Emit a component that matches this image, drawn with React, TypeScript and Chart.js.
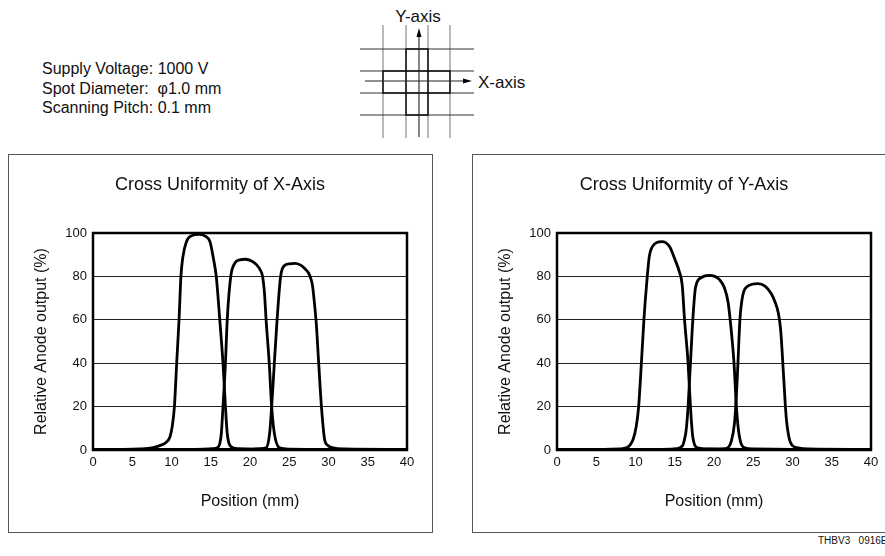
import React, { useEffect, useRef } from "react";
import { Chart, registerables } from "chart.js";

Chart.register(...registerables);

const FONT = '"Liberation Sans", Arial, Helvetica, sans-serif';

// Axis tick labels
const positionTicks = [0, 5, 10, 15, 20, 25, 30, 35, 40];
const outputTicks = [0, 20, 40, 60, 80, 100];

// Cross Uniformity of X-Axis — three scan lines (position mm / relative output %)
const xScanAPos = [0, 4, 6, 7.5, 8.5, 9.3, 9.8, 10.1, 10.37, 10.66, 10.96, 11.2, 11.45, 11.9, 12.6, 13.45, 14.3, 14.9, 15.3, 15.7, 16.15, 16.56, 16.87, 17.1, 17.6, 18.5, 20, 25, 40];
const xScanAVal = [0.3, 0.3, 0.5, 1, 2, 3.5, 6, 11, 20, 40, 60, 80, 89, 96, 98.8, 99.4, 98.6, 96, 89, 80, 60, 40, 20, 7.7, 1.5, 0.6, 0.4, 0.3, 0.3];

const xScanBPos = [0, 12, 14, 15.2, 15.9, 16.15, 16.35, 16.56, 16.87, 17.1, 17.55, 18.05, 18.7, 19.45, 20.2, 20.8, 21.3, 21.6, 21.85, 22.05, 22.45, 22.76, 23.1, 23.75, 25, 30, 40];
const xScanBVal = [0.3, 0.3, 0.4, 0.6, 1.2, 3, 7.7, 20, 40, 60, 80, 86, 87.6, 87.9, 87.1, 85.5, 83, 80, 72, 60, 40, 20, 7.7, 1, 0.4, 0.3, 0.3];

const xScanCPos = [0, 15, 20, 21.3, 22.05, 22.5, 22.76, 23.1, 23.45, 23.9, 24.4, 25.0, 25.7, 26.4, 27.0, 27.6, 27.95, 28.2, 28.45, 28.75, 29.1, 29.5, 29.9, 30.6, 32, 40];
const xScanCVal = [0.3, 0.3, 0.4, 0.6, 1, 7.7, 20, 40, 60, 80, 85, 85.8, 86, 85.3, 83.5, 80.5, 76, 68, 58, 40, 20, 5, 2.2, 1, 0.5, 0.3];

// Cross Uniformity of Y-Axis — three scan lines
const yScanAPos = [0, 6, 8, 8.85, 9.7, 10.1, 10.4, 10.75, 11.07, 11.5, 11.75, 12.2, 13.35, 14.35, 15.0, 15.6, 15.95, 16.25, 16.7, 17.0, 17.3, 17.95, 19.4, 25, 40];
const yScanAVal = [0.3, 0.3, 0.5, 1, 5, 11, 20, 40, 60, 80, 89, 94, 96, 93.7, 88, 82, 76, 60, 40, 20, 6, 1, 0.5, 0.3, 0.3];

const yScanBPos = [0, 12, 14.5, 15.2, 16.0, 16.25, 16.45, 16.7, 17.0, 17.3, 17.65, 18.4, 19.4, 20.1, 20.7, 21.3, 21.8, 22.2, 22.55, 22.85, 23.2, 23.9, 25, 30, 40];
const yScanBVal = [0.3, 0.3, 0.4, 0.6, 2, 5, 9, 20, 40, 60, 75, 79.5, 80.5, 80, 78.5, 75, 68, 55, 40, 20, 7, 1, 0.5, 0.3, 0.3];

const yScanCPos = [0, 18, 20.5, 21.5, 22.2, 22.6, 22.85, 23.05, 23.3, 23.65, 24.3, 25.6, 26.5, 27.3, 27.8, 28.2, 28.5, 28.85, 29.2, 29.6, 30.0, 30.7, 32, 40];
const yScanCVal = [0.3, 0.3, 0.4, 0.6, 4, 12, 25, 40, 60, 71, 75.5, 76.7, 75.5, 72, 68, 63, 55, 35, 15, 5, 2, 1, 0.5, 0.3];

type Series = { pos: number[]; val: number[] };

const framePlugin = {
  id: "plotFrame",
  beforeDatasetsDraw(chart: any) {
    const { ctx, chartArea: a } = chart;
    ctx.save();
    ctx.strokeStyle = "#000";
    ctx.lineWidth = 2.5;
    ctx.strokeRect(a.left, a.top, a.right - a.left, a.bottom - a.top);
    ctx.restore();
  },
};

function ScanChart({ title, series, left, top }: { title: string; series: Series[]; left: number; top: number }) {
  const ref = useRef<HTMLCanvasElement>(null);
  useEffect(() => {
    if (!ref.current) return;
    const chart = new Chart(ref.current, {
      type: "line",
      data: {
        datasets: series.map((s) => ({
          data: s.pos.map((p, i) => ({ x: p, y: s.val[i] })),
          borderColor: "#000",
          borderWidth: 2.8,
          pointRadius: 0,
          fill: false,
          cubicInterpolationMode: "monotone" as const,
        })),
      },
      options: {
        animation: false,
        responsive: false,
        layout: { padding: 0 },
        plugins: {
          legend: { display: false },
          tooltip: { enabled: false },
          title: {
            display: true,
            text: title,
            color: "#111",
            font: { size: 18, weight: "normal" as const, family: FONT, lineHeight: 1.2 },
            padding: { top: 19, bottom: 37.4 },
          },
        },
        scales: {
          x: {
            type: "linear",
            min: 0,
            max: 40,
            afterBuildTicks: (s: any) => {
              s.ticks = positionTicks.map((v) => ({ value: v }));
            },
            grid: { display: false, drawTicks: false },
            border: { display: false },
            ticks: { color: "#111", font: { size: 13, family: FONT }, padding: 5, maxRotation: 0, autoSkip: false },
            title: {
              display: true,
              text: "Position (mm)",
              color: "#111",
              font: { size: 16, family: FONT, lineHeight: 1.2 },
              padding: { top: 0, bottom: 19.4 },
            },
            afterFit: (s: any) => {
              s.height = 81;
            },
          },
          y: {
            type: "linear",
            min: 0,
            max: 100,
            afterBuildTicks: (s: any) => {
              s.ticks = outputTicks.map((v) => ({ value: v }));
            },
            grid: { color: "#222", lineWidth: 1, drawTicks: false },
            border: { display: false },
            ticks: { color: "#111", font: { size: 13, family: FONT }, padding: 6 },
            title: {
              display: true,
              text: "Relative Anode output (%)",
              color: "#111",
              font: { size: 16, family: FONT, lineHeight: 1.2 },
              padding: { top: 23.4, bottom: 0 },
            },
            afterFit: (s: any) => {
              s.width = 84;
            },
          },
          y2: {
            type: "linear",
            position: "right",
            display: true,
            grid: { display: false, drawTicks: false },
            border: { display: false },
            ticks: { display: false },
            afterFit: (s: any) => {
              s.width = 24;
            },
          },
        },
      } as any,
      plugins: [framePlugin],
    });
    return () => chart.destroy();
  }, []);
  return (
    <canvas
      ref={ref}
      width={422}
      height={376}
      style={{ position: "absolute", left, top, width: 422, height: 376 }}
    />
  );
}

function Diagram() {
  const vx = [383, 406, 428, 450];
  const hy = [49, 71, 93, 115];
  const plus = "M406,49 L428,49 L428,71 L450,71 L450,93 L428,93 L428,115 L406,115 L406,93 L383,93 L383,71 L406,71 Z";
  return (
    <svg width={885} height={150} style={{ position: "absolute", left: 0, top: 0 }}>
      {vx.map((x) => (
        <line key={"v" + x} x1={x} y1={25} x2={x} y2={138} stroke="#8a8a8a" strokeWidth={1.2} />
      ))}
      {hy.map((y) => (
        <line key={"h" + y} x1={360} y1={y} x2={474} y2={y} stroke="#333" strokeWidth={1} />
      ))}
      <path d={plus} fill="none" stroke="#111" strokeWidth={1.5} />
      <rect x={406} y={71} width={22} height={22} fill="none" stroke="#111" strokeWidth={1.5} />
      <line x1={419} y1={137} x2={419} y2={36} stroke="#222" strokeWidth={1.1} />
      <polygon points="419,28 416.5,37 421.5,37" fill="#000" />
      <line x1={365} y1={81} x2={464} y2={81} stroke="#222" strokeWidth={1.1} />
      <polygon points="472,81 463,78.5 463,83.5" fill="#000" />
      <text x={418} y={16} textAnchor="middle" dominantBaseline="central" fontFamily={FONT} fontSize={17} fill="#111">
        Y-axis
      </text>
      <text x={478} y={82} dominantBaseline="central" fontFamily={FONT} fontSize={17} fill="#111">
        X-axis
      </text>
    </svg>
  );
}

export default function App() {
  const xSeries: Series[] = [
    { pos: xScanAPos, val: xScanAVal },
    { pos: xScanBPos, val: xScanBVal },
    { pos: xScanCPos, val: xScanCVal },
  ];
  const ySeries: Series[] = [
    { pos: yScanAPos, val: yScanAVal },
    { pos: yScanBPos, val: yScanBVal },
    { pos: yScanCPos, val: yScanCVal },
  ];
  return (
    <div
      style={{
        position: "absolute",
        left: 0,
        top: 0,
        width: 885,
        height: 556,
        overflow: "hidden",
        background: "#fff",
        fontFamily: FONT,
        color: "#111",
      }}
    >
      <div
        style={{
          position: "absolute",
          left: 42,
          top: 59,
          fontSize: 16,
          lineHeight: "19.5px",
          whiteSpace: "pre",
        }}
      >
        <div>Supply Voltage: 1000 V</div>
        <div>Spot Diameter:  φ1.0 mm</div>
        <div>Scanning Pitch: 0.1 mm</div>
      </div>
      <Diagram />
      <div
        style={{
          position: "absolute",
          left: 8,
          top: 154,
          width: 425,
          height: 379,
          boxSizing: "border-box",
          border: "1px solid #555",
        }}
      />
      <div
        style={{
          position: "absolute",
          left: 472,
          top: 154,
          width: 425,
          height: 379,
          boxSizing: "border-box",
          border: "1px solid #555",
        }}
      />
      <ScanChart title="Cross Uniformity of X-Axis" series={xSeries} left={9} top={155} />
      <ScanChart title="Cross Uniformity of Y-Axis" series={ySeries} left={473} top={155} />
      <div
        style={{
          position: "absolute",
          left: 818,
          top: 535,
          fontSize: 10,
          lineHeight: "12px",
          whiteSpace: "pre",
        }}
      >
        THBV3   0916E
      </div>
    </div>
  );
}
